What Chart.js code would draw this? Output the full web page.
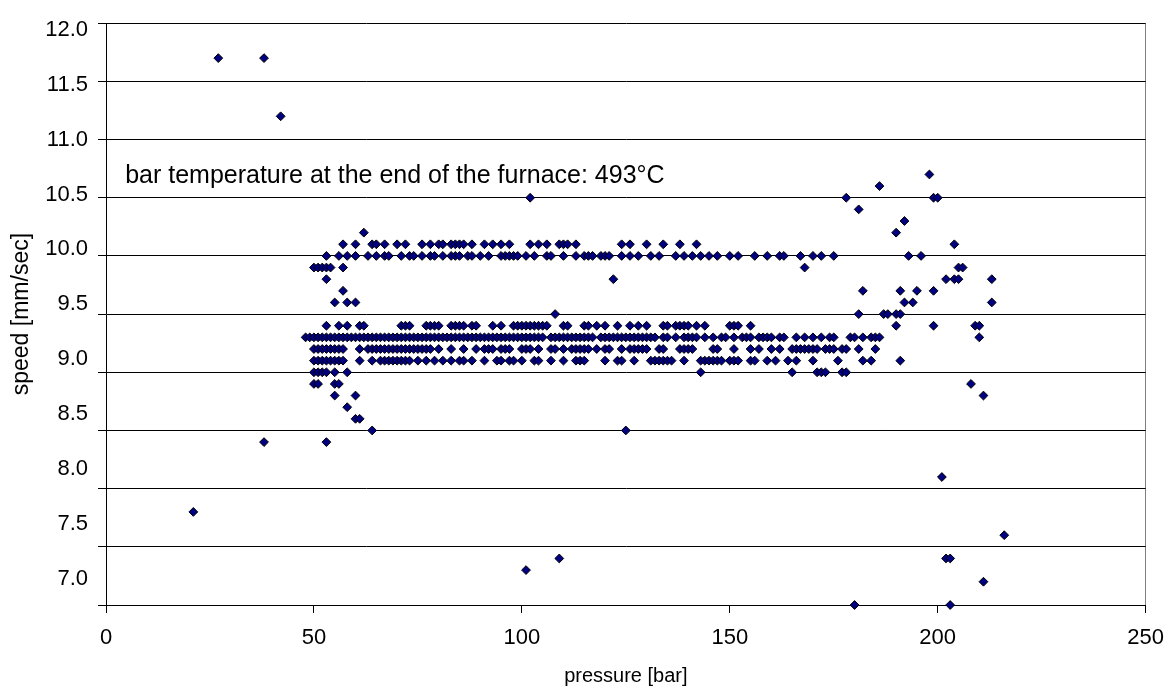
<!DOCTYPE html>
<html>
<head>
<meta charset="utf-8">
<script src="https://cdn.jsdelivr.net/npm/chart.js@4/dist/chart.umd.min.js"></script>
<style>
  html, body { margin: 0; padding: 0; background: #fff; }
  #chart { display: block; }
</style>
</head>
<body>
<canvas id="chart" width="1176" height="695"></canvas>
<script>
// pressure readings [bar], grouped by the extrusion speed they were logged at [mm/sec]
const at102 = [62, 190];
const at101 = [57, 60, 64, 65, 67, 70, 72, 76, 78, 80, 81, 83, 84, 85, 86, 88, 91, 93, 95, 97, 102, 104, 106, 109, 110, 111, 113, 124, 126, 130, 134, 138, 142, 204];
const at100 = [53, 56, 58, 60, 63, 65, 67, 68, 71, 73, 74, 76, 78, 79, 81, 83, 84, 85, 87, 88, 90, 92, 95, 96, 97, 98, 99, 101, 103, 106, 107, 110, 113, 115, 116, 117, 119, 120, 121, 124, 126, 128, 131, 133, 137, 139, 141, 143, 145, 147, 150, 152, 156, 159, 162, 163, 167, 170, 172, 175, 193, 196];
const at99 = [50, 51, 52, 53, 54, 57, 168, 205, 206];
const at98 = [53, 122, 202, 204, 205, 213];
const at97 = [57, 182, 191, 195, 199];
const at96 = [55, 58, 60, 192, 194, 213];
const at95 = [108, 181, 187, 188, 190, 191];
const at94 = [53, 56, 58, 61, 62, 71, 72, 73, 77, 78, 79, 80, 83, 84, 85, 86, 88, 89, 93, 95, 98, 99, 100, 101, 102, 103, 104, 105, 106, 110, 111, 115, 116, 118, 120, 123, 126, 128, 130, 134, 135, 137, 138, 139, 140, 142, 144, 150, 151, 152, 155, 190, 199, 209, 210];
const at93 = [48, 49, 50, 51, 52, 53, 54, 55, 56, 57, 58, 59, 60, 61, 62, 63, 64, 65, 66, 67, 68, 69, 70, 71, 72, 73, 74, 75, 76, 77, 78, 79, 80, 81, 82, 83, 84, 85, 86, 87, 88, 89, 90, 91, 92, 93, 94, 95, 96, 97, 98, 99, 100, 101, 102, 103, 104, 105, 107, 108, 109, 110, 111, 112, 113, 114, 115, 116, 117, 119, 120, 121, 122, 123, 124, 125, 126, 127, 128, 129, 130, 131, 132, 134, 135, 137, 139, 140, 141, 142, 144, 146, 148, 149, 151, 153, 154, 155, 157, 158, 159, 160, 162, 163, 166, 168, 170, 172, 174, 175, 179, 180, 182, 184, 185, 186, 210];
const at92 = [50, 51, 52, 53, 54, 55, 56, 57, 61, 63, 64, 65, 66, 67, 68, 69, 70, 71, 72, 73, 74, 75, 76, 77, 78, 80, 83, 86, 89, 91, 92, 93, 95, 96, 97, 100, 101, 102, 104, 107, 108, 110, 112, 113, 114, 115, 116, 118, 120, 121, 124, 126, 127, 128, 129, 130, 133, 134, 138, 139, 140, 141, 146, 147, 151, 155, 157, 160, 162, 165, 166, 167, 168, 169, 170, 171, 173, 174, 175, 177, 178, 181, 185];
const at91 = [50, 51, 52, 53, 54, 55, 56, 57, 61, 64, 66, 67, 68, 69, 70, 71, 72, 73, 75, 77, 79, 81, 83, 85, 86, 88, 91, 94, 95, 97, 98, 100, 103, 104, 107, 110, 113, 114, 115, 120, 123, 124, 127, 131, 132, 133, 134, 135, 136, 139, 143, 144, 145, 146, 147, 148, 150, 151, 152, 155, 156, 159, 161, 164, 166, 170, 176, 182, 184, 191];
const at90 = [50, 51, 52, 53, 55, 58, 143, 165, 171, 172, 173, 177, 178];
const at89 = [50, 51, 55, 56, 208];
const at88 = [55, 60, 211];
const at87 = [58];
const at86 = [60, 61];
const at85 = [64, 125];
const at84 = [38, 53];

// isolated readings away from the main bands
const strayPressure = [27, 38, 42, 102, 178, 181, 186, 192, 198, 199, 200, 21, 201, 216, 109, 202, 203, 101, 211, 180, 203];
const straySpeed = [11.7, 11.7, 11.2, 10.5, 10.5, 10.4, 10.6, 10.3, 10.7, 10.5, 10.5, 7.8, 8.1, 7.6, 7.4, 7.4, 7.4, 7.3, 7.2, 7.0, 7.0];

const xTicks = [0, 50, 100, 150, 200, 250];
const yTicks = [7.0, 7.5, 8.0, 8.5, 9.0, 9.5, 10.0, 10.5, 11.0, 11.5, 12.0];

const noteText = 'bar temperature at the end of the furnace: 493°C';

const speedRows = [
  [10.2, at102], [10.1, at101], [10.0, at100], [9.9, at99], [9.8, at98], [9.7, at97],
  [9.6, at96], [9.5, at95], [9.4, at94], [9.3, at93], [9.2, at92], [9.1, at91],
  [9.0, at90], [8.9, at89], [8.8, at88], [8.7, at87], [8.6, at86], [8.5, at85], [8.4, at84]
];

const points = [];
speedRows.forEach(([speed, pressures]) => {
  pressures.forEach(p => points.push({ x: p, y: speed }));
});
strayPressure.forEach((p, i) => points.push({ x: p, y: straySpeed[i] }));

const FONT = '"Liberation Sans", Arial, sans-serif';

// writes the furnace note inside the plot, anchored in data units
const notePlugin = {
  id: 'note',
  afterDatasetsDraw(chart) {
    const { ctx, scales: { x, y } } = chart;
    ctx.save();
    ctx.font = '25px ' + FONT;
    ctx.fillStyle = '#000';
    ctx.textAlign = 'left';
    ctx.textBaseline = 'alphabetic';
    ctx.fillText(noteText, x.getPixelForValue(4.6), y.getPixelForValue(10.625));
    ctx.restore();
  }
};

new Chart(document.getElementById('chart'), {
  type: 'scatter',
  data: {
    datasets: [{
      data: points,
      pointStyle: 'rectRot',
      pointRadius: 4.4,
      backgroundColor: '#000080',
      borderColor: '#000000',
      borderWidth: 1,
      clip: false
    }]
  },
  options: {
    responsive: false,
    animation: false,
    devicePixelRatio: 1,
    layout: { padding: { top: 13, right: 30, left: 0, bottom: 0 } },
    plugins: { legend: { display: false }, tooltip: { enabled: false } },
    scales: {
      x: {
        type: 'linear',
        min: 0,
        max: 250,
        afterBuildTicks: s => { s.ticks = xTicks.map(v => ({ value: v })); },
        ticks: { font: { family: FONT, size: 22 }, color: '#000', padding: 12, callback: v => v },
        grid: {
          color: c => (c.tick && c.tick.value === 250 ? '#808080' : 'rgba(0,0,0,0)'),
          tickColor: '#000',
          tickLength: 8
        },
        border: { color: '#000' },
        title: { display: true, text: 'pressure [bar]', font: { family: FONT, size: 20 }, color: '#000', padding: { top: 0, bottom: 7 } },
        afterFit: s => { s.height = 90; }
      },
      y: {
        type: 'linear',
        position: 'left',
        weight: 0,
        min: 7,
        max: 12,
        afterBuildTicks: s => { s.ticks = yTicks.map(v => ({ value: v })); },
        ticks: { display: false },
        grid: { color: '#000', tickColor: '#000', tickLength: 8 },
        border: { color: '#000' },
        afterFit: s => { s.width = 8; }
      },
      // label column for the speed axis, laid out a little tighter than the grid
      yLabels: {
        type: 'linear',
        position: 'left',
        weight: 1,
        min: 6.7581,
        max: 12.0627,
        afterBuildTicks: s => { s.ticks = yTicks.map(v => ({ value: v })); },
        ticks: { font: { family: FONT, size: 22 }, color: '#000', padding: 10, autoSkip: false, callback: v => v.toFixed(1) },
        grid: { display: false, drawTicks: false },
        border: { display: false },
        title: { display: true, text: 'speed [mm/sec]', font: { family: FONT, size: 23 }, color: '#000', padding: { top: 8, bottom: 0 } },
        afterFit: s => { s.width = 98; }
      }
    }
  },
  plugins: [notePlugin]
});
</script>
</body>
</html>
